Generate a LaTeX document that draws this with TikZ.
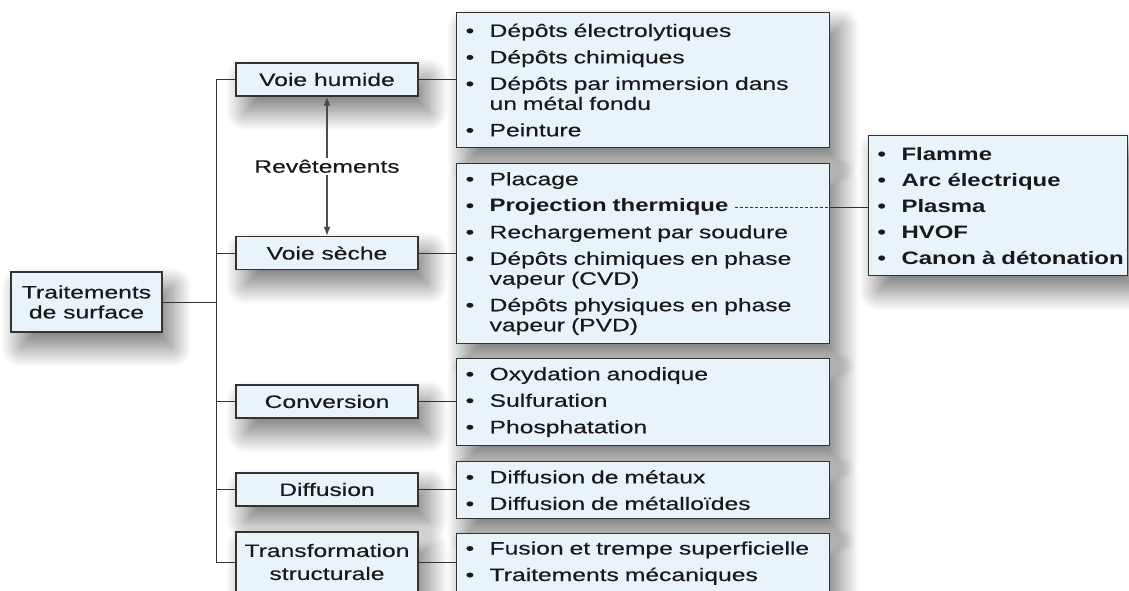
\documentclass[tikz,border=0pt]{standalone}
\usepackage{fontspec}
\setmainfont{Liberation Sans}[UprightFeatures={FakeStretch=1.37,FakeBold=0.3}, BoldFeatures={FakeStretch=1.33}]
\usetikzlibrary{arrows.meta,shadows.blur}

\definecolor{boxblue}{RGB}{232,244,250}
\newcommand{\itm}[1]{\makebox[24pt][l]{\textbullet}\mbox{#1}}
\newcommand{\cnt}[1]{\hspace*{24pt}\mbox{#1}}

\begin{document}
\begin{tikzpicture}[x=1pt,y=-1pt,
  box/.style={draw=black!80, line width=1.2pt, fill=boxblue, text=black!90,
    blur shadow={shadow xshift=10pt, shadow yshift=-15pt, shadow blur radius=20pt, shadow blur steps=40, shadow opacity=55},
    inner sep=0pt, font=\fontsize{18}{20}\selectfont},
  head/.style={box, minimum width=182pt, minimum height=33pt, align=center},
  list/.style={box, anchor=north west, text width=355pt, minimum width=373pt, align=left, inner xsep=9pt},
  link/.style={black!80, line width=1pt},
  arr/.style={black!70, line width=1.6pt, {Latex[length=9pt,width=7pt]}-{Latex[length=9pt,width=7pt]}}]

\useasboundingbox (0,0) rectangle (1129,590);
\clip (0,0) rectangle (1129,590);

\node[head, minimum width=151pt, minimum height=60pt] (ts) at (86.5,302) {Traitements\\de surface};

\node[head] (vh) at (327,79.5) {Voie humide};
\node[head] (vs) at (327,253) {Voie sèche};
\node[head] (cv) at (327,401.5) {Conversion};
\node[head] (df) at (327,489.5) {Diffusion};
\node[head, minimum height=60pt] (tf) at (327,562) {Transformation\\[3pt]structurale};

\node[list, minimum height=135pt] (l1) at (456,12)
  {\itm{Dépôts électrolytiques}\\[6.5pt]\itm{Dépôts chimiques}\\[6.5pt]\itm{Dépôts par immersion dans}\\\cnt{un métal fondu}\\[6.5pt]\itm{Peinture}};
\node[list, minimum height=180pt] (l2) at (456,163)
  {\itm{Placage}\\[6.5pt]\itm{\bfseries Projection thermique}\\[6.5pt]\itm{Rechargement par soudure}\\[6.5pt]\itm{Dépôts chimiques en phase}\\\cnt{vapeur (CVD)}\\[6.5pt]\itm{Dépôts physiques en phase}\\\cnt{vapeur (PVD)}};
\node[list, minimum height=87pt] (l3) at (456,358)
  {\itm{Oxydation anodique}\\[6.5pt]\itm{Sulfuration}\\[6.5pt]\itm{Phosphatation}};
\node[list, minimum height=57pt] (l4) at (456,461)
  {\itm{Diffusion de métaux}\\[6.5pt]\itm{Diffusion de métalloïdes}};
\node[list, minimum height=59pt] (l5) at (456,533)
  {\itm{Fusion et trempe superficielle}\\[6.5pt]\itm{Traitements mécaniques}};

\node[list, minimum height=140pt, minimum width=259pt, text width=241pt, font=\fontsize{18}{20}\selectfont\bfseries] (flam) at (868,135)
  {\itm{Flamme}\\[6pt]\itm{Arc électrique}\\[6pt]\itm{Plasma}\\[6pt]\itm{HVOF}\\[6pt]\itm{Canon à détonation}};

\coordinate (trunk) at (216,0);
\coordinate (pj) at (735,207);

\draw[link] (vh.west) -- (vh.west -| trunk) -- (tf.west -| trunk) -- (tf.west);
\draw[link] (ts.east) -- (ts.east -| trunk);
\foreach \n in {vs,cv,df}
  \draw[link] (\n.west) -- (\n.west -| trunk);
\foreach \a/\b in {vh/l1,vs/l2,cv/l3,df/l4,tf/l5}
  \draw[link] (\a.east) -- (\a.east -| \b.west);

\draw[arr] (vh.south) -- node[fill=white, inner sep=2pt, text=black!90, font=\fontsize{18}{20}\selectfont] (rv) {Revêtements} (vs.north);

\draw[link, dashed, dash pattern=on 3pt off 2pt, line width=0.6pt] (pj) -- (pj -| l2.east);
\draw[link] (pj -| l2.east) -- (pj -| flam.west);
\end{tikzpicture}
\end{document}
